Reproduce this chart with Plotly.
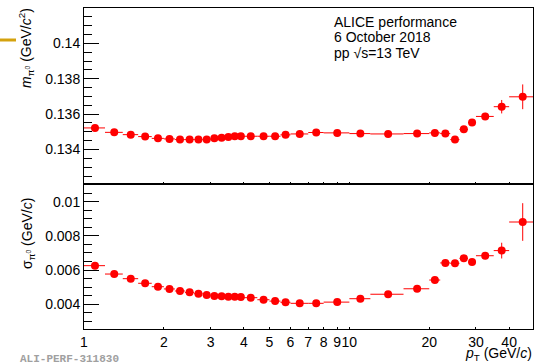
import plotly.graph_objects as go
from plotly.subplots import make_subplots

# pT bins (GeV/c): centres and edges
pt = [1.1, 1.3, 1.5, 1.7, 1.9, 2.1, 2.3, 2.5, 2.7, 2.9, 3.1, 3.3, 3.5, 3.7, 3.9,
      4.25, 4.75, 5.25, 5.75, 6.5, 7.5, 9.0, 11.0, 14.0, 18.0, 21.0, 23.0, 25.0,
      27.0, 29.0, 32.5, 37.5, 45.0]
pt_edges = [1.0, 1.2, 1.4, 1.6, 1.8, 2.0, 2.2, 2.4, 2.6, 2.8, 3.0, 3.2, 3.4, 3.6,
            3.8, 4.0, 4.5, 5.0, 5.5, 6.0, 7.0, 8.0, 10.0, 12.0, 16.0, 20.0, 22.0,
            24.0, 26.0, 28.0, 30.0, 35.0, 40.0, 50.0]

# pi0 peak position (GeV/c^2)
mass = [0.13522, 0.13497, 0.13484, 0.13473, 0.13463, 0.13460, 0.13456, 0.13456,
        0.13456, 0.13456, 0.13463, 0.13467, 0.13471, 0.13475, 0.13475, 0.13475,
        0.13475, 0.13475, 0.13483, 0.13488, 0.13496, 0.13494, 0.13490, 0.13488,
        0.13490, 0.13494, 0.13490, 0.13456, 0.13514, 0.13552, 0.13587, 0.13642,
        0.13698]
mass_err = [0.00005] * 26 + [0.00008, 0.0001, 0.0001, 0.00012, 0.0002, 0.00038, 0.0007]

# pi0 peak width (GeV/c)
sigma = [0.00626, 0.00577, 0.00550, 0.00523, 0.00503, 0.00490, 0.00478, 0.00470,
         0.00462, 0.00454, 0.00449, 0.00447, 0.00444, 0.00444, 0.00443, 0.00439,
         0.00427, 0.00419, 0.00412, 0.00406, 0.00406, 0.00413, 0.00433, 0.00459,
         0.00491, 0.00542, 0.00642, 0.00640, 0.00669, 0.00647, 0.00684, 0.00714,
         0.00881]
sigma_err = [0.00005] * 26 + [0.0001, 0.0001, 0.00012, 0.00012, 0.0002, 0.00046, 0.0011]

x_tickvals = [1, 2, 3, 4, 5, 6, 7, 8, 9, 10, 20, 30, 40]
x_ticktext = ["1", "2", "3", "4", "5", "6", "7", "8", "9", "10", "20", "30", "40"]

err_hi = [pt_edges[i + 1] - pt[i] for i in range(len(pt))]
err_lo = [pt[i] - pt_edges[i] for i in range(len(pt))]

FONT = "Liberation Sans, Arial, sans-serif"
RED = "#ff0000"

fig = make_subplots(rows=2, cols=1, shared_xaxes=True, vertical_spacing=0,
                    row_heights=[0.5483, 0.4517])


def add_series(y, yerr, row):
    fig.add_trace(go.Scatter(
        x=pt, y=y, mode="markers",
        marker=dict(color=RED, size=8, symbol="circle"),
        error_x=dict(type="data", symmetric=False, array=err_hi, arrayminus=err_lo,
                     color=RED, thickness=1, width=0),
        error_y=dict(type="data", array=yerr, color=RED, thickness=1, width=0),
        showlegend=False, cliponaxis=True,
    ), row=row, col=1)


add_series(mass, mass_err, 1)
add_series(sigma, sigma_err, 2)

axis_common = dict(showline=True, linecolor="black", linewidth=1, mirror=True,
                   showgrid=False, zeroline=False,
                   tickfont=dict(family=FONT, size=14, color="black"))

fig.update_xaxes(type="log", range=[0, 1.692], tickmode="array",
                 tickvals=x_tickvals, ticktext=x_ticktext, tickangle=0,
                 ticks="inside", ticklen=2, tickcolor="black", **axis_common)
fig.update_xaxes(showticklabels=False, row=1, col=1)

fig.update_yaxes(ticks="inside", ticklen=15, tickcolor="black",
                 minor=dict(ticks="inside", ticklen=8, tickcolor="black",
                            dtick=0.0005, showgrid=False),
                 **axis_common)
fig.update_yaxes(range=[0.13205, 0.14200], tick0=0.134, dtick=0.002, row=1, col=1)
fig.update_yaxes(range=[0.00256, 0.01103], tick0=0.004, dtick=0.002, row=2, col=1)

title_font = dict(family=FONT, size=14, color="black")
annotations = [
    dict(text="<i>m</i><sub>π<sup>0</sup></sub> (GeV/<i>c</i><sup>2</sup>)",
         x=(26 - 84) / 449, y=(329 - 48) / 321, textangle=-90),
    dict(text="σ<sub>π<sup>0</sup></sub> (GeV/<i>c</i>)",
         x=(28 - 84) / 449, y=(329 - 234) / 321, textangle=-90),
]
for a in annotations:
    fig.add_annotation(xref="paper", yref="paper", xanchor="center", yanchor="middle",
                       showarrow=False, font=title_font, **a)

fig.add_annotation(text="<i>p</i><sub>T</sub> (GeV/<i>c</i>)", xref="paper", yref="paper",
                   x=(533 - 84) / 449, y=(329 - 364) / 321, xanchor="right",
                   yanchor="bottom", borderpad=0, showarrow=False, font=title_font)

for txt, ypx in [("ALICE performance", 21.7), ("6 October 2018", 37.3),
                 ("pp √s=13 TeV", 53.3)]:
    fig.add_annotation(text=txt, xref="paper", yref="paper",
                       x=(332 - 84) / 449, y=(329 - ypx) / 321,
                       xanchor="left", yanchor="middle", showarrow=False,
                       font=title_font)

fig.add_annotation(text="<b>ALI-PERF-311830</b>", xref="paper", yref="paper",
                   x=(18 - 84) / 449, y=(329 - 359) / 321, xanchor="left",
                   yanchor="middle", showarrow=False,
                   font=dict(family="Liberation Mono, Courier New, monospace",
                             size=11, color="#a0a0a0"))

# short gold marker at the left edge
fig.add_shape(type="line", xref="paper", yref="paper",
              x0=-84 / 449, x1=(16 - 84) / 449,
              y0=(329 - 40) / 321, y1=(329 - 40) / 321,
              line=dict(color="#d4a20e", width=3))

fig.update_layout(width=535, height=364,
                  margin=dict(l=84, r=2, t=8, b=35),
                  plot_bgcolor="white", paper_bgcolor="white",
                  font=dict(family=FONT, size=14, color="black"))

fig.write_html("out.html")
